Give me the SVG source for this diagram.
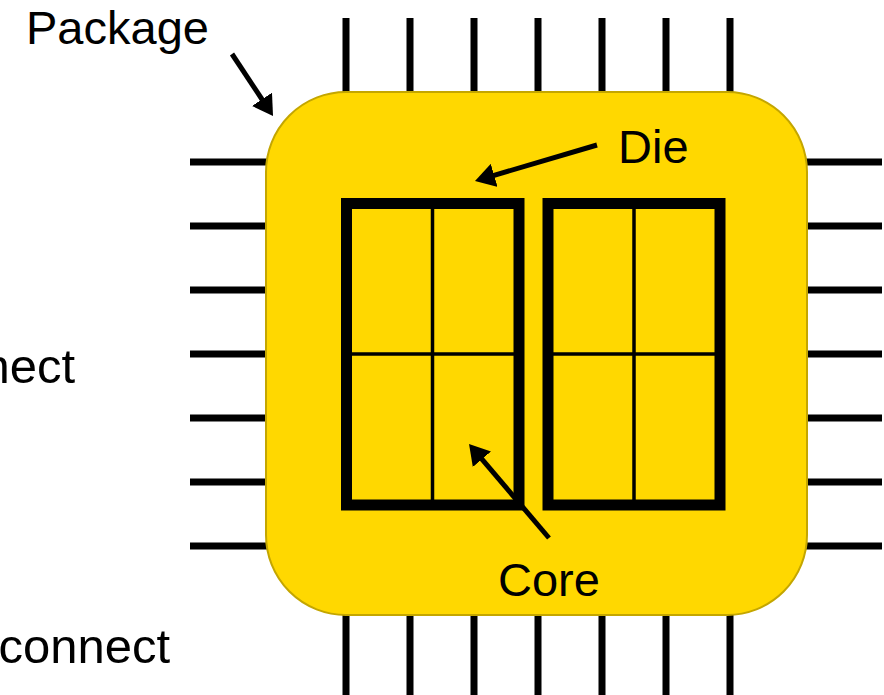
<svg xmlns="http://www.w3.org/2000/svg" width="884" height="695" viewBox="0 0 884 695">
<style>
.pin{stroke:#000;stroke-width:7;fill:none}
.die{fill:none;stroke:#000;stroke-width:11}
.div{stroke:#000;stroke-width:3.5}
.lbl{font-family:"Liberation Sans",Arial,sans-serif;fill:#000}
.arr{stroke:#000;stroke-width:5;fill:none;marker-end:url(#ah)}
</style>
<defs>
<marker id="ah" viewBox="0 0 20 24" refX="8" refY="12" markerWidth="20" markerHeight="24" markerUnits="userSpaceOnUse" orient="auto">
<path d="M0,0 L20,12 L0,24 z" fill="#000"/>
</marker>
</defs>
<rect width="884" height="695" fill="#fff"/>
<g id="pins">
<path class="pin" d="M346,18V100M410,18V100M474,18V100M538,18V100M602,18V100M666,18V100M730,18V100"/>
<path class="pin" d="M346,600V695M410,600V695M474,600V695M538,600V695M602,600V695M666,600V695M730,600V695"/>
<path class="pin" d="M190,162H275M190,226H275M190,290H275M190,354H275M190,418H275M190,482H275M190,546H275"/>
<path class="pin" d="M797,162H882M797,226H882M797,290H882M797,354H882M797,418H882M797,482H882M797,546H882"/>
</g>
<g id="package">
<rect x="266" y="92" width="541" height="523" rx="80" ry="80" fill="#FFD800" stroke="#C4A600" stroke-width="2"/>
</g>
<g id="die1">
<rect class="die" x="346.5" y="203.5" width="172.5" height="301.5"/>
<line class="div" x1="432.5" y1="203" x2="432.5" y2="505"/>
<line class="div" x1="346" y1="354" x2="519" y2="354" stroke-width="4.5"/>
</g>
<g id="die2">
<rect class="die" x="548" y="203.5" width="172" height="301.5"/>
<line class="div" x1="634" y1="203" x2="634" y2="505"/>
<line class="div" x1="548" y1="354" x2="720" y2="354" stroke-width="4.5"/>
</g>
<g id="connectors">
<line class="arr" x1="232" y1="54" x2="266.4" y2="106"/>
<line class="arr" x1="597" y1="145" x2="486.5" y2="177.6"/>
<line class="arr" x1="549" y1="538" x2="476.8" y2="453.1"/>
</g>
<g id="labels">
<text class="lbl" x="26" y="44" font-size="47">Package</text>
<text class="lbl" x="618" y="163" font-size="47">Die</text>
<text class="lbl" x="498" y="596" font-size="47">Core</text>
<text class="lbl" x="75" y="383" font-size="49" text-anchor="end">nect</text>
<text class="lbl" x="170" y="663" font-size="49" text-anchor="end">connect</text>
</g>
</svg>
